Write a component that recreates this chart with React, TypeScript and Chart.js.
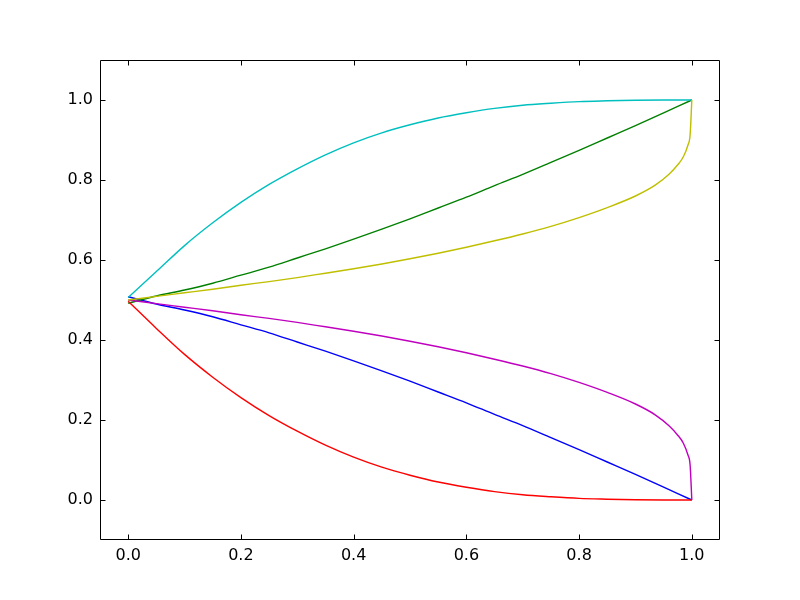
import React, { useEffect, useRef } from "react";
import { Chart, registerables } from "chart.js";

Chart.register(...registerables);

// x positions for the four "smooth" curves
const xA = [0, 0.05, 0.1, 0.15, 0.2, 0.25, 0.3, 0.35, 0.4, 0.45, 0.5, 0.55, 0.6, 0.65, 0.7, 0.75, 0.8, 0.85, 0.9, 0.95, 1.0];
const cyanY = [0.506, 0.571, 0.636, 0.693, 0.744, 0.789, 0.828, 0.863, 0.893, 0.918, 0.938, 0.955, 0.968, 0.979, 0.987, 0.992, 0.996, 0.998, 0.9995, 1.0, 1.0];
const redY = [0.497, 0.429, 0.364, 0.307, 0.256, 0.211, 0.172, 0.137, 0.107, 0.082, 0.062, 0.045, 0.032, 0.021, 0.013, 0.008, 0.004, 0.002, 0.0005, 0.0, 0.0];
const greenY = [0.492, 0.51, 0.525, 0.542, 0.562, 0.582, 0.605, 0.628, 0.652, 0.677, 0.703, 0.73, 0.757, 0.786, 0.814, 0.844, 0.874, 0.905, 0.936, 0.968, 1.0];
const blueY = [0.508, 0.49, 0.475, 0.458, 0.438, 0.418, 0.395, 0.372, 0.348, 0.323, 0.297, 0.27, 0.243, 0.214, 0.186, 0.156, 0.126, 0.095, 0.064, 0.032, 0.0];

// x positions for the curves with the steep end
const xB = [0, 0.05, 0.1, 0.15, 0.2, 0.25, 0.3, 0.35, 0.4, 0.45, 0.5, 0.55, 0.6, 0.65, 0.7, 0.75, 0.8, 0.85, 0.9, 0.935, 0.96, 0.975, 0.985, 0.993, 0.997, 1.0];
const yellowY = [0.5, 0.509, 0.518, 0.527, 0.537, 0.546, 0.556, 0.567, 0.578, 0.59, 0.603, 0.617, 0.632, 0.648, 0.665, 0.684, 0.706, 0.731, 0.76, 0.787, 0.815, 0.838, 0.858, 0.887, 0.913, 1.0];
const magentaY = [0.5, 0.491, 0.482, 0.473, 0.463, 0.454, 0.444, 0.433, 0.422, 0.41, 0.397, 0.383, 0.368, 0.352, 0.335, 0.316, 0.294, 0.269, 0.24, 0.213, 0.185, 0.162, 0.142, 0.113, 0.087, 0.0];

const xTicks = [0.0, 0.2, 0.4, 0.6, 0.8, 1.0];
const yTicks = [0.0, 0.2, 0.4, 0.6, 0.8, 1.0];

const pts = (xs: number[], ys: number[]) => xs.map((x, i) => ({ x, y: ys[i] }));

const boxPlugin = {
  id: "mplBox",
  afterDraw(chart: any) {
    const { ctx, chartArea } = chart;
    const l = Math.round(chartArea.left) + 0.5;
    const r = Math.round(chartArea.right) - 0.5;
    const t = Math.round(chartArea.top) + 0.5;
    const b = Math.round(chartArea.bottom) - 0.5;
    const tl = 5;
    ctx.save();
    ctx.strokeStyle = "#000";
    ctx.lineWidth = 1;
    ctx.beginPath();
    ctx.rect(l, t, r - l, b - t);
    const xs = chart.scales.x;
    const ys = chart.scales.y;
    xTicks.forEach((v) => {
      const px = Math.round(xs.getPixelForValue(v)) + 0.5;
      ctx.moveTo(px, b);
      ctx.lineTo(px, b - tl);
      ctx.moveTo(px, t);
      ctx.lineTo(px, t + tl);
    });
    yTicks.forEach((v) => {
      const py = Math.round(ys.getPixelForValue(v)) + 0.5;
      ctx.moveTo(l, py);
      ctx.lineTo(l + tl, py);
      ctx.moveTo(r, py);
      ctx.lineTo(r - tl, py);
    });
    ctx.stroke();
    ctx.restore();
  },
};

export default function App() {
  const ref = useRef<HTMLCanvasElement>(null);
  useEffect(() => {
    if (!ref.current) return;
    const lw = 1.4;
    const ds = (label: string, xs: number[], ys: number[], color: string) => ({
      label,
      data: pts(xs, ys),
      borderColor: color,
      backgroundColor: color,
      borderWidth: lw,
      pointRadius: 0,
      showLine: true,
      cubicInterpolationMode: "monotone" as const,
      fill: false,
    });
    const font = { family: "'DejaVu Sans', sans-serif", size: 16 };
    const chart = new Chart(ref.current, {
      type: "scatter",
      data: {
        // reversed so that the first-plotted series lie beneath
        datasets: [
          ds("y", xB, yellowY, "#bfbf00"),
          ds("m", xB, magentaY, "#bf00bf"),
          ds("c", xA, cyanY, "#00bfbf"),
          ds("r", xA, redY, "#ff0000"),
          ds("g", xA, greenY, "#008000"),
          ds("b", xA, blueY, "#0000ff"),
        ],
      },
      options: {
        animation: false,
        responsive: false,
        maintainAspectRatio: false,
        layout: { padding: { top: 60, right: 80, left: 0, bottom: 0 } },
        plugins: { legend: { display: false }, tooltip: { enabled: false } },
        scales: {
          x: {
            type: "linear",
            min: -0.05,
            max: 1.05,
            grid: { display: false, drawTicks: false },
            border: { display: false },
            ticks: {
              color: "#000",
              font,
              padding: 6,
              maxRotation: 0,
              callback: (v: any) => Number(v).toFixed(1),
            },
            afterBuildTicks: (scale: any) => {
              scale.ticks = xTicks.map((v) => ({ value: v }));
            },
            afterFit: (scale: any) => {
              scale.height = 60;
            },
          },
          y: {
            type: "linear",
            min: -0.1,
            max: 1.1,
            grid: { display: false, drawTicks: false },
            border: { display: false },
            ticks: {
              color: "#000",
              font,
              padding: 7,
              callback: (v: any) => Number(v).toFixed(1),
            },
            afterBuildTicks: (scale: any) => {
              scale.ticks = yTicks.map((v) => ({ value: v }));
            },
            afterFit: (scale: any) => {
              scale.width = 100;
            },
          },
        },
      },
      plugins: [boxPlugin],
    });
    return () => chart.destroy();
  }, []);
  return (
    <div style={{ position: "absolute", left: 0, top: 0, width: 800, height: 600, background: "#fff" }}>
      <canvas ref={ref} width={800} height={600} style={{ width: 800, height: 600, display: "block" }} />
    </div>
  );
}
